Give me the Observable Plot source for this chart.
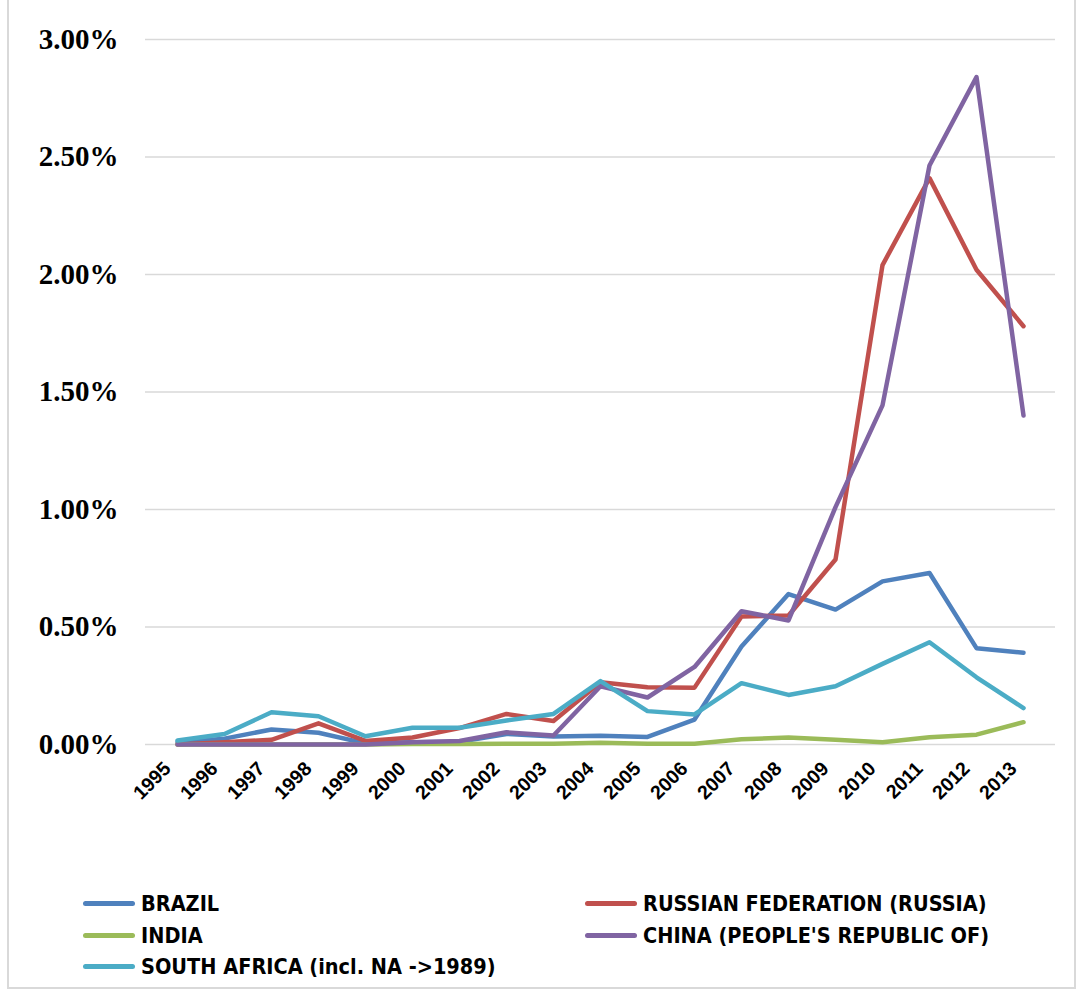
<!DOCTYPE html>
<html>
<head>
<meta charset="utf-8">
<script src="https://cdn.jsdelivr.net/npm/d3@7"></script>
<script src="https://cdn.jsdelivr.net/npm/@observablehq/plot@0.6"></script>
<style>
  html, body { margin: 0; padding: 0; background: #fff; }
  #wrap { position: relative; width: 1082px; height: 993px; overflow: hidden; }
  #frame { position: absolute; left: 7px; top: -3px; width: 1069px; height: 992px; border: 2px solid #d9d9d9; box-sizing: border-box; pointer-events: none; }
  #chart { position: absolute; left: 0; top: 0; }
  #legend { position: absolute; left: 0; top: 888px; width: 1082px; font-family: "Liberation Sans Narrow", "Arial Narrow", "DejaVu Sans Condensed", sans-serif; font-weight: bold; font-size: 21.5px; color: #000; }
  .item { position: absolute; display: flex; align-items: center; white-space: nowrap; height: 30px; }
  .sw { width: 52px; height: 5px; border-radius: 3px; margin-right: 6px; }
</style>
</head>
<body>
<div id="wrap">
  <div id="chart"></div>
  <div id="legend"></div>
  <div id="frame"></div>
</div>
<script>
const years = ["1995","1996","1997","1998","1999","2000","2001","2002","2003","2004","2005","2006","2007","2008","2009","2010","2011","2012","2013"];
const seriesNames = ["BRAZIL", "RUSSIAN FEDERATION (RUSSIA)", "INDIA", "CHINA (PEOPLE'S REPUBLIC OF)", "SOUTH AFRICA (incl. NA ->1989)"];
const seriesColors = ["#4F81BD", "#C0504D", "#9BBB59", "#8064A2", "#4BACC6"];
// values in percent
const brazil = [0.01,0.025,0.064,0.05,0.005,0.01,0.012,0.045,0.034,0.037,0.032,0.106,0.417,0.64,0.574,0.694,0.73,0.41,0.39];
const russia = [0.0,0.01,0.02,0.09,0.015,0.03,0.07,0.13,0.10,0.265,0.244,0.242,0.545,0.549,0.787,2.04,2.41,2.02,1.78];
const india = [0,0,0,0,0,0.002,0.002,0.003,0.003,0.007,0.003,0.003,0.022,0.03,0.02,0.01,0.031,0.042,0.095];
const china = [0,0,0,0,0,0.01,0.015,0.052,0.038,0.248,0.2,0.33,0.567,0.528,1.01,1.443,2.464,2.84,1.40];
const southAfrica = [0.017,0.045,0.137,0.12,0.035,0.071,0.071,0.102,0.13,0.27,0.142,0.128,0.261,0.211,0.248,0.343,0.435,0.286,0.155];
const yTicks = [0, 0.5, 1.0, 1.5, 2.0, 2.5, 3.0];

const allSeries = [brazil, russia, india, china, southAfrica];
const data = [];
allSeries.forEach((vals, i) => {
  vals.forEach((v, j) => data.push({series: seriesNames[i], year: years[j], value: v}));
});

const chart = Plot.plot({
  width: 1082,
  height: 830,
  marginTop: 39,
  marginBottom: 86,
  marginLeft: 145,
  marginRight: 27,
  x: {type: "point", domain: years, padding: 0.5},
  y: {domain: [0, 3.0]},
  color: {domain: seriesNames, range: seriesColors},
  marks: [
    Plot.ruleY(yTicks, {stroke: "#d9d9d9", strokeWidth: 1.5}),
    Plot.axisY({
      ticks: yTicks, tickSize: 0, tickPadding: 27,
      tickFormat: d => d.toFixed(2) + "%",
      fontFamily: "Liberation Serif, Times New Roman, serif",
      fontWeight: "bold", fontSize: 29, label: null
    }),
    Plot.axisX({
      tickSize: 0, tickRotate: -45, tickPadding: 21, dx: -10,
      fontFamily: "Liberation Sans, Arial, sans-serif",
      fontWeight: "bold", fontSize: 19.5, label: null
    }),
    Plot.line(data, {
      x: "year", y: "value", z: "series", stroke: "series",
      strokeWidth: 4.5, strokeLinejoin: "round", strokeLinecap: "round",
      curve: "linear"
    })
  ]
});
document.getElementById("chart").appendChild(chart);

const legend = document.getElementById("legend");
const pos = [
  [83, 0], [585, 0],
  [83, 32], [585, 32],
  [83, 63]
];
seriesNames.forEach((name, i) => {
  const it = document.createElement("div");
  it.className = "item";
  it.style.left = pos[i][0] + "px";
  it.style.top = pos[i][1] + "px";
  const sw = document.createElement("div");
  sw.className = "sw";
  sw.style.background = seriesColors[i];
  const tx = document.createElement("span");
  tx.textContent = name;
  it.appendChild(sw);
  it.appendChild(tx);
  legend.appendChild(it);
});
</script>
</body>
</html>
